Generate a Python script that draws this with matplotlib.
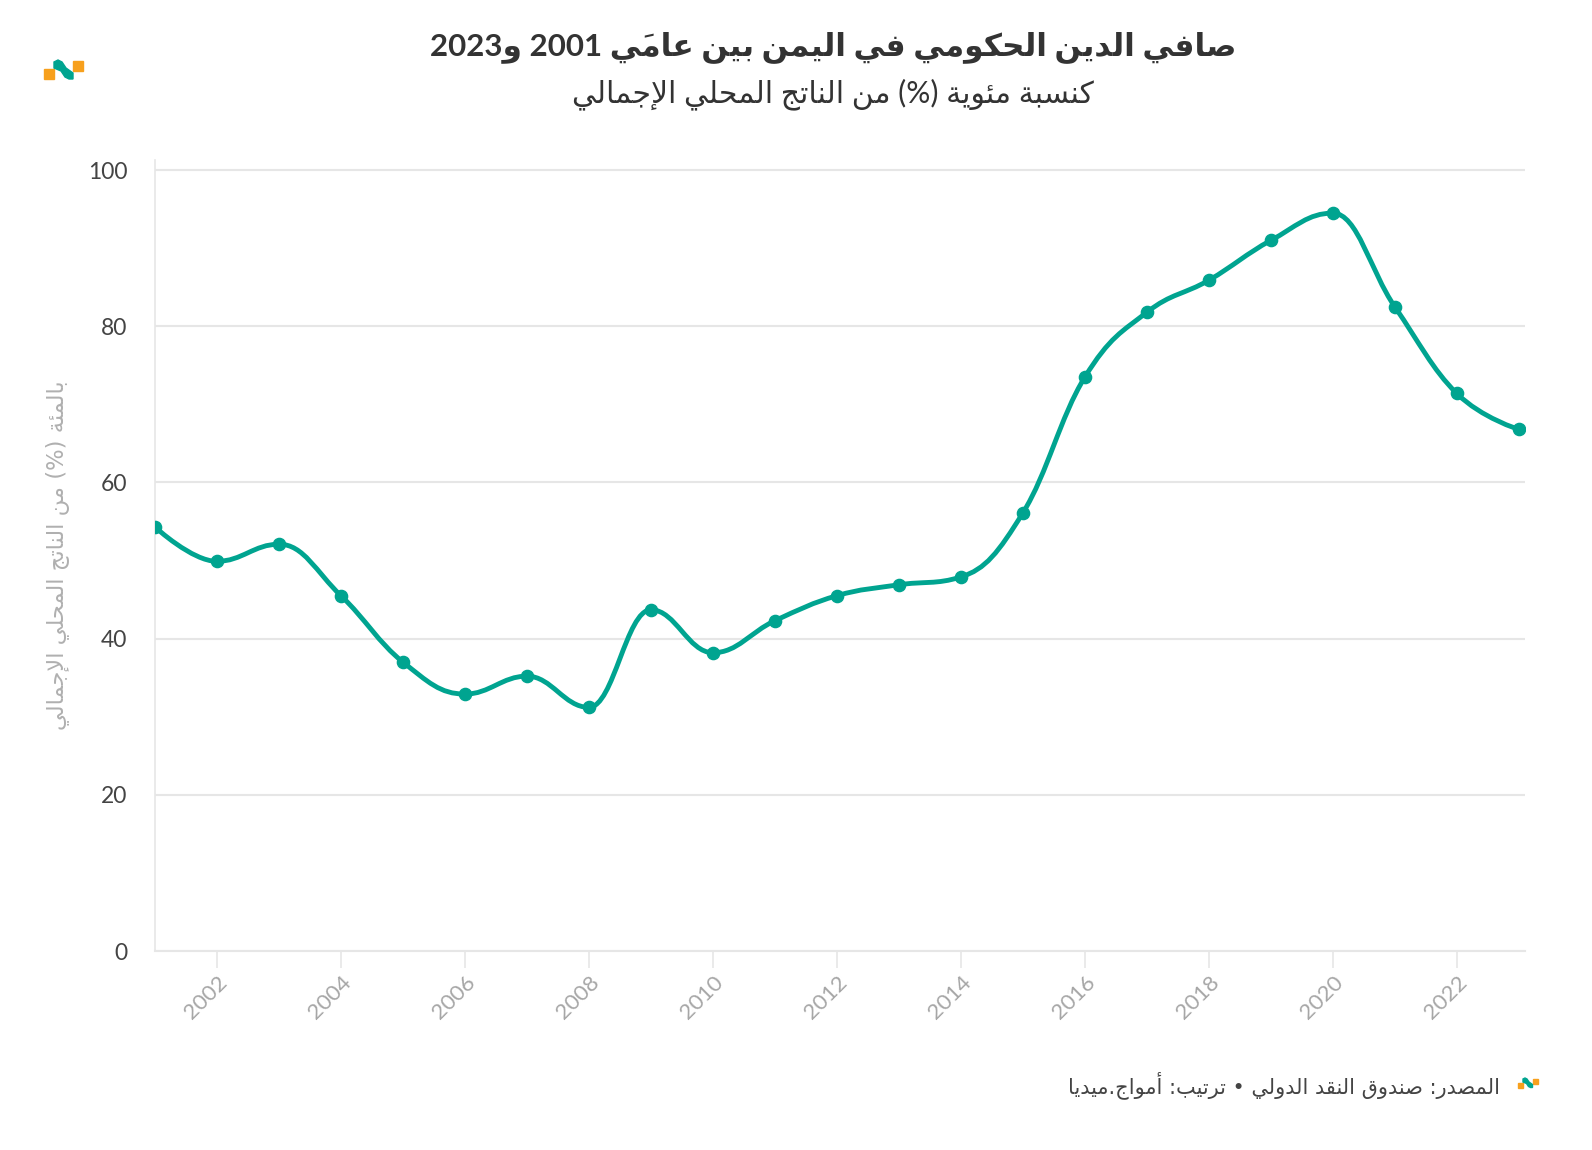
import numpy as np
import matplotlib
matplotlib.use('Agg')
import matplotlib.pyplot as plt
from matplotlib.path import Path
from matplotlib.patches import PathPatch, Rectangle, Polygon

# Data: net government debt of Yemen (% of GDP)
years = list(range(2001, 2024))
debt = [54.3, 49.9, 52.1, 45.5, 37.0, 32.9, 35.2, 31.2, 43.7, 38.2, 42.3, 45.5,
        46.9, 47.9, 56.1, 73.5, 81.8, 85.9, 91.0, 94.5, 82.5, 71.4, 66.8]
x_ticks = list(range(2002, 2023, 2))
y_ticks = [0, 20, 40, 60, 80, 100]

title = 'صافي الدين الحكومي في اليمن بين عامَي 2001 و2023'
subtitle = 'كنسبة مئوية (%) من الناتج المحلي الإجمالي'
ylabel = 'بالمئة (%) من الناتج المحلي الإجمالي'
source = 'المصدر: صندوق النقد الدولي • ترتيب: أمواج.ميديا'

TEAL = '#00a490'
ORANGE = '#f7a01d'

# --- minimal Arabic shaping + RTL ordering (matplotlib does no shaping) ---
FORMS = {}
_sizes = {0x621: 1, 0x622: 2, 0x623: 2, 0x624: 2, 0x625: 2, 0x627: 2, 0x629: 2,
          0x62F: 2, 0x630: 2, 0x631: 2, 0x632: 2, 0x648: 2, 0x649: 2}
_cp = 0xFE80
for c in list(range(0x621, 0x63B)) + list(range(0x641, 0x64B)):
    k = _sizes.get(c, 4)
    FORMS[chr(c)] = [chr(_cp + i) for i in range(k)]
    _cp += k
LAMALEF = {'\u0622': 0xFEF5, '\u0623': 0xFEF7, '\u0625': 0xFEF9, '\u0627': 0xFEFB}


def is_mark(c):
    return 0x64B <= ord(c) <= 0x652


def jtype(c):
    if c in FORMS:
        return {1: 'U', 2: 'R', 4: 'D'}[len(FORMS[c])]
    return None


def shape(s):
    chars = list(s)
    out = []
    i = 0
    n = len(chars)

    def neighbour(j, step):
        j += step
        while 0 <= j < n and is_mark(chars[j]):
            j += step
        return chars[j] if 0 <= j < n else None

    while i < n:
        c = chars[i]
        if c not in FORMS:
            out.append(c)
            i += 1
            continue
        prev = neighbour(i, -1)
        joins_prev = jtype(c) in ('D', 'R') and jtype(prev) == 'D'
        if c == '\u0644' and i + 1 < n and chars[i + 1] in LAMALEF:
            out.append(chr(LAMALEF[chars[i + 1]] + (1 if joins_prev else 0)))
            i += 2
            continue
        nxt = neighbour(i, 1)
        joins_next = jtype(c) == 'D' and jtype(nxt) in ('D', 'R')
        form = {(False, False): 0, (True, False): 1,
                (False, True): 2, (True, True): 3}[(joins_prev, joins_next)]
        out.append(FORMS[c][form])
        i += 1
    return ''.join(out)


def rtl(s):
    s = shape(s)
    # split into digit runs and the rest
    tokens = []
    for ch in s:
        kind = ch.isdigit()
        if tokens and tokens[-1][0] == kind:
            tokens[-1][1] += ch
        else:
            tokens.append([kind, ch])
    mirror = {'(': ')', ')': '('}
    res = []
    for kind, tok in reversed(tokens):
        if kind:
            res.append(tok)
        else:
            res.append(''.join(mirror.get(ch, ch) for ch in reversed(tok)))
    return ''.join(res)


# --- Highcharts-style spline through the points ---
def spline_path(xs, ys, smoothing=1.5):
    denom = smoothing + 1
    n = len(xs)
    right = [None] * n
    verts = [(xs[0], ys[0])]
    codes = [Path.MOVETO]
    for i in range(1, n):
        px, py = xs[i], ys[i]
        lx, ly = xs[i - 1], ys[i - 1]
        lcx, lcy = px, py
        if i < n - 1:
            nx, ny = xs[i + 1], ys[i + 1]
            lcx = (smoothing * px + lx) / denom
            lcy = (smoothing * py + ly) / denom
            rcx = (smoothing * px + nx) / denom
            rcy = (smoothing * py + ny) / denom
            corr = ((rcy - lcy) * (rcx - px)) / (rcx - lcx) + py - rcy
            lcy += corr
            rcy += corr
            if lcy > ly and lcy > py:
                lcy = max(ly, py); rcy = 2 * py - lcy
            elif lcy < ly and lcy < py:
                lcy = min(ly, py); rcy = 2 * py - lcy
            if rcy > ny and rcy > py:
                rcy = max(ny, py); lcy = 2 * py - rcy
            elif rcy < ny and rcy < py:
                rcy = min(ny, py); lcy = 2 * py - rcy
            right[i] = (rcx, rcy)
        c1 = right[i - 1] if right[i - 1] else (lx, ly)
        verts += [c1, (lcx, lcy), (px, py)]
        codes += [Path.CURVE4] * 3
    return Path(verts, codes)


W, H = 1592, 1150
fig = plt.figure(figsize=(W / 100, H / 100), dpi=100)
ax = fig.add_axes([155 / W, 1 - 951 / H, (1525 - 155) / W, (951 - 160) / H])

ax.add_patch(PathPatch(spline_path(years, debt), fill=False, edgecolor=TEAL,
                       lw=3.5, capstyle='round', joinstyle='round', zorder=3))
ax.plot(years, debt, 'o', color=TEAL, markersize=8.8, zorder=4)

ax.set_xlim(2001, 2023.1)
ax.set_ylim(0, 101.3)
ax.set_yticks(y_ticks)
ax.set_xticks(x_ticks)
ax.set_yticklabels([str(v) for v in y_ticks], fontfamily='Lato', fontsize=16.5,
                   color='#444444')
ax.set_xticklabels([str(v) for v in x_ticks], fontfamily='Lato', fontsize=16,
                   color='#a6a6a6', rotation=45, ha='right',
                   rotation_mode='anchor')
ax.tick_params(axis='y', length=0, pad=20)
ax.tick_params(axis='x', length=12, width=1.2, color='#e6e6e6', pad=3)
ax.grid(axis='y', color='#e6e6e6', lw=1.5)
ax.set_axisbelow(True)
for side in ('top', 'right'):
    ax.spines[side].set_visible(False)
ax.spines['left'].set_color('#e6e6e6')
ax.spines['bottom'].set_color('#e6e6e6')
ax.spines['left'].set_linewidth(1.2)
ax.spines['bottom'].set_linewidth(1.5)

ax.set_ylabel(rtl(ylabel), fontfamily='DejaVu Sans', fontsize=16.3,
              color='#b0b0b0', labelpad=13)

fig.text(833 / W, 1 - 47 / H, rtl(title), fontfamily=['Lato', 'DejaVu Sans'],
         fontweight='bold', fontsize=22.5, color='#333333', ha='center', va='center')
fig.text(833 / W, 1 - 94 / H, rtl(subtitle), fontfamily=['Lato', 'DejaVu Sans'],
         fontsize=21.5, color='#333333', ha='center', va='center')
fig.text(1500 / W, 1 - 1085 / H, rtl(source), fontfamily='DejaVu Sans',
         fontsize=15, color='#444444', ha='right', va='center')


# logos
def logo(x0, y0, s):
    def p(x, y):
        return ((x0 + x * s) / W, 1 - (y0 + y * s) / H)
    fig.patches.append(Rectangle(p(0, 19), 10 * s / W, 10 * s / H,
                                 color=ORANGE, transform=fig.transFigure))
    fig.patches.append(Rectangle(p(29, 11), 10 * s / W, 10 * s / H,
                                 color=ORANGE, transform=fig.transFigure))
    pts = [(10, 2), (14, 0), (18, 2), (22, 8), (29, 13), (29, 19),
           (25, 19), (21, 17), (17, 11), (10, 8)]
    fig.patches.append(Polygon([p(*q) for q in pts], closed=True, color=TEAL,
                               transform=fig.transFigure))


logo(44, 60, 1.0)
logo(1518, 1078, 0.5)

fig.savefig('out.png', dpi=100, facecolor='white')
